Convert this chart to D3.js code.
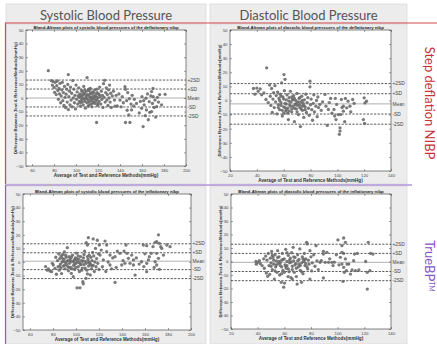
<!DOCTYPE html>
<html>
<head>
<meta charset="utf-8">
<script src="https://cdn.jsdelivr.net/npm/d3@7"></script>
<style>
  body { margin: 0; background: #fff; }
  svg { display: block; }
</style>
</head>
<body>
<div id="chart"></div>
<script>
// ---- data ----
const colHeaders = ['Systolic Blood Pressure', 'Diastolic Blood Pressure'];
const plotTitles = [
  'Bland-Altman plots of systolic blood pressures of the deflationary nibp',
  'Bland-Altman plots of diastolic blood pressures of the deflationary nibp',
  'Bland-Altman plots of systolic blood pressures of the inflationary nibp',
  'Bland-Altman plots of diastolic blood pressures of the inflationary nibp'
];
const xLabel = 'Average of Test and Reference Methods(mmHg)';
const yLabel = 'Difference Between Test & ReferenceMethods(mmHg)';
const sdLabels = ['+2SD', '+SD', 'Mean', '-SD', '-2SD'];
const sysTicks = [60, 80, 100, 120, 140, 160, 180, 200];
const diaTicks = [20, 40, 60, 80, 100, 120, 140];
const yTicks = [-50, -40, -30, -20, -10, 0, 10, 20, 30, 40, 50];

// reference lines (+2SD, +SD, mean, -SD, -2SD)
const tlLines = [13.2, 6.6, 0, -6.6, -13.2];
const trLines = [12, 4.8, -2.4, -9.6, -16.8];
const blLines = [13.4, 6.8, 0.6, -5.6, -12.2];
const brLines = [12.8, 6, -0.6, -7.4, -14.2];

// systolic, deflation
const tlPoints = [
  [74.8,20.1],[77.5,12.8],[78.5,9.5],[79,12.2],[80,7.8],[80.5,4.2],[81,11.5],[82,2.5],[82.5,9],[83,12.5],
  [83.5,5.5],[84,-1],[84.5,7],[85,3],[85.5,10.8],[86,-3.5],[86.5,1.5],[87,6],[87.5,11.5],[88,-2],
  [88.5,4],[89,-5.5],[89.5,8.5],[90,0.5],[90.5,-7],[91,2.8],[91.5,6.5],[92,-3],[92.5,10],[93,17.2],
  [93,-8.5],[93.5,1],[94,5],[94.5,-5],[95,8],[95.5,-1.5],[96,3.5],[96.5,-6.5],[97,12.8],[97.5,0],
  [98,6.5],[98.5,-3.5],[99,2],[99.5,-8],[100,9.5],
  [100.5,-1],[101,4.5],[101.5,-4.5],[102,1.5],[102.5,7.5],[103,-2.5],[103.5,3],[104,-6],[104.5,0.5],[105,5.5],
  [105.5,-3],[106,2],[106.5,-5],[107,8.5],[107.5,-1],[108,3.5],[108.5,-7.5],[109,0],[109.5,5],[110,15],
  [110,-3.5],[110.5,2.5],[111,-1.5],[111.5,6.5],[112,-5],[112.5,1],[113,3.5],[113.5,-2],[114,0.5],[114.5,-6.5],
  [115,4.5],[115.5,-3],[116,1.5],[116.5,-0.5],[117,6],[117.5,-4],[118,2.5],[118.5,-1.5],[118.7,-18],[119,4],
  [119.5,-5.5],[120,0],[120.5,3],[121,-2.5],[121.5,8],[122,1],[122.5,-4.5],[123,5],[123.5,-1],[124,2],
  [124.5,-7],[125,10.5],[125.5,0.5],[126,13],[126.5,-3],[127,4],[127.5,7.5],[128,-1.5],[128.5,2.5],[129,-5.5],
  [129.5,6],[130,0],[130.5,9.5],[131,-3],[131.5,3.5],[132,-7],[133,1.5],[134,5],[135,-1.5],[135.5,-6],[136.5,2],
  [103,0.5],[104,2.5],[105,-1.5],[106,0],[107,3],[108,-2.5],[109,1.5],[110,-0.5],[111,2],[112,-3],
  [113,0],[114,3],[115,-1],[116,-3.5],[117,1],[118,-2],[119,0.5],[120,-4],[121,2.5],[106,4.5],
  [108,6],[112,5.5],[114,-4.5],[116,4],[119,6.5],[104,-3.5],[111,-6],[113,7],
  [137.5,-5.9],[139,3],[140,-1.5],[141,-6.5],[142,1],[143,-3.5],[144.5,8.3],[145,6.4],[145,-18],[146,-2],
  [146.5,-9],[147,4],[148,-12.5],[148.5,-0.5],[149,-18],[150,-4.5],[150.5,-8.8],[151,2],[152.5,-5.9],[153,-1],[155,-4],
  [157.5,-11],[158.5,-2.5],[159.6,-7.6],[160,1],[161,-21],[161.5,-2],[162,-5],[163,-13],[163.6,-0.2],[164,-8.8],
  [165,3],[165.7,-16],[166.6,-2.7],[167,-10.5],[168,1.5],[168.7,4.7],[168.7,-10],[169.5,-4],[170,7],[170.2,1],
  [171,-7],[171.8,-1.5],[172.5,-14],[173.3,-6.4],[174,0.5],[175,-3],[176,2.5],[177.8,-5],[181,2.7]
];

// diastolic, deflation
const trPoints = [
  [37.5,8.5],[38.6,4.5],[40,8.8],[41,6.5],[42.5,8.2],[43.6,4],[45.3,5.4],[46.8,0.7],[47.3,23.2],
  [48.5,-1.5],[49.5,11],[50,3],[50.5,-3.5],[51,8.5],[51.5,-8.5],[52,1],[52.5,5.5],[53,-5],[53.5,10.5],
  [54,-1],[54.5,3.5],[55,-9.5],[55.5,6],[56,-3],[56.5,1.5],[57,-6.5],[57.5,4.5],[58,-1.5],[58.5,12.5],
  [59,-11],[59.5,2.5],[60,-4.5],[60.2,18.4],[60.5,7],[61,15],[61,-2],[61.5,-7.5],[62,0.5],[62.5,4],
  [63,-5.5],[63.5,-13.5],[64,2],[64.5,-3],[65,6.5],[65.5,-1],[66,-8],[66.5,1],[67,-4],[67.5,3.5],
  [68,-15],[68.5,-2.5],[69,0],[69.5,-6],[70,5],[70.5,-3.5],[71,-10],[71.5,1.5],[72,-5],[72.5,-18.5],
  [73,-1],[73.5,3],[74,-7],[74.5,-2],[75,-12],[75.5,0.5],[76,-4.5],[76.5,4.5],[77,-8.5],[77.5,-1.5],
  [78,2],[78.5,-5.5],[79,-10.5],[79.6,13.7],[79.6,9.7],[80,-3],[80.5,1],[81,-6.5],[81.5,-14],[82,-2],
  [82.5,4],[83,-8],[84,-4],[84.5,0],[85,-11.5],[85.5,2.5],[86,-5],[87,-2.8],
  [56,-5],[57,0],[58,-3.5],[59,-7],[60,1],[61,-5],[62,-2.5],[63,-9],[64,-0.5],[65,-4],
  [66,-6],[67,0.5],[68,-5.5],[69,-3],[70,-8],[71,-1],[72,-3],[73,-6],[74,0],[75,-3.5],
  [76,-6.5],[58,3],[62,-6.5],[66,2.5],[70,-1.5],[64,-7.5],[68,1.5],[72,2],[60,-9],[74,-4],
  [88,-7],[89,-1],[90.8,4.3],[91.5,-4],[92.5,-17.7],[93.3,-6.4],[94,-1.5],[95,1.5],[96,-9],[97.5,-6.4],
  [98,-11],[98.5,1.5],[99,-13.5],[99.5,-2.8],[100.7,-10],[101.5,-24],[102,-19.4],[102,-21.7],[102.5,-10],[103,0.7],
  [103.5,-5],[104.5,-4],[104.5,-7.6],[105.5,-15],[106,1.5],[107,-5.2],[108,-0.5],[109.4,-4],[110,-8],[111.4,0.7],[112.5,-2],
  [119.4,-13.5],[120,1.9],[120.3,-16.3],[120.6,-1.7],[121.8,-0.5]
];

// systolic, inflation
const blPoints = [
  [73.6,-3.4],[75,-6],[76,-5.1],[77.4,-6.6],[78.9,-7.1],[79.5,-1],[80.3,-2.2],[81.8,-4.7],[82.5,3.5],[83,-9],
  [84,1],[84.5,-3.5],[85,6],[85.5,-6],[86,2.5],[86.5,-1.5],[87,4.5],[87.5,-8.5],[88,0],[88.5,5.5],
  [89,-3],[89.5,2],[90,7.5],[90.5,-5],[91,-0.5],[91.5,3.5],[92,-2],[92.5,10.5],[93,1],[93.5,-6.5],
  [94,4],[94.5,-1],[95,2.5],[95.5,-4],[96,-8.3],[96.5,0.5],[97,5],[97.7,-10.8],[98,-2.5],[98.5,1.5],
  [99,-5.5],[99.5,3],[100,-1],[100.5,6.5],[101,-19],[101.5,0],[102,-3.5],[102.5,2],[103,-7],[103.5,-19],
  [104,4],[104.5,-1.5],[105,1],[105.5,-4.5],[106,-14.5],[106.4,-16],[106.5,3],[107,-2],[107.5,8],[108,0.5],
  [108.7,-12],[109,14.2],[109.5,-6],[110,12.5],[110,-8.8],[110.5,2],[110.8,17.9],[111,-3],[111.5,5],[112,-0.5],
  [112.5,-9.5],[113,3.5],[113.5,-5],[114,1],[114.5,7],[115,17],[115,-2.5],[115.5,4.5],[116,-7],[116.5,0],
  [117,10],[117.5,-3.5],[118,2.5],[118.6,16],[119,-1],[119.5,6],[120,-5.5],[120.3,12.5],[121,5.1],
  [86,-3],[88,3],[90,-2.5],[92,0.5],[94,-4],[96,3.5],[98,0],[100,-4],[102,4.5],[104,-2],
  [106,0.5],[108,-4.5],[110,4],[112,-1.5],[114,-3],[89,0.5],[91,5],[93,-3.5],[95,1],[97,-5],
  [99,-1.5],[101,2.5],[103,-0.5],[105,-6],[107,5.5],[109,-1],[111,0],[113,-2],[87,-4.5],[100,1.5],
  [122,8.8],[123,-3.5],[123.8,1.5],[125.3,15.4],[126,-7],[126.7,7.6],[126.7,12.5],[128,0],[129.6,5.1],[129.6,-2.2],
  [131,-5],[132,3],[134,-15],[134,3.9],[135,-4],[136,8],[138.3,6.4],[139.8,-2.2],[141,1],[141.8,8],
  [142.6,-1],[143.5,12.5],[144.4,6.4],[145.6,2.7],[147,-1],[148.5,5.1],[150,1.5],[150,-2.2],[151.4,-9.6],[152.5,3],
  [155,-1.5],[157,0.2],[158.6,12.5],[159,-3.4],[160,6],[161.5,12],[161.5,-1],[161.5,-7.1],[163,1.5],[163.8,3.9],
  [165.5,6.4],[167,11.3],[168,-4],[168.8,14.5],[168.8,0.2],[170.2,15],[170.2,6.4],[170.2,-2.2],[171.7,20],[171.7,2.7],
  [172.5,13.7],[172.5,-5.4],[173.7,11.3],[174.6,10],[176,5.1],[179,12.5],[181.8,11.3]
];

// diastolic, inflation
const brPoints = [
  [38.7,0],[39,-2],[40,-0.6],[41.3,0.6],[42,-1.5],[43.3,-3],[44.5,2],
  [45,-5],[46,4],[46.5,-8.5],[47,1],[47.5,-11],[48,6],[48.5,-3],[49,-9.5],[49.5,2.5],[50,-1],
  [50.5,7.5],[51,-6],[51.5,3],[52,-2],[52.5,-13],[53,5],[53.5,-4],[54,0.5],[54.5,-8],[55,8],
  [55.5,-1.5],[56,3.5],[56.5,-10],[57,-3],[57.7,-15.4],[58,1],[58.5,6],[59,-6.5],[59.5,-19],[60,2],
  [60.2,-16],[60.5,-2.5],[61,9],[61.5,-5],[62,0],[62.8,-11.2],[63,4.5],[63.5,-7.5],[64,-1],[64.5,2.5],
  [65,-12],[65.5,6.5],[66,-13],[66,-3.5],[66.6,10.5],[67,0.5],[67.5,-8],[68,3],[68.5,-1.5],[69,-11.2],
  [69.6,-16.7],[70,5],[70.5,-4],[71,1.5],[71.6,9.3],[72,-6.5],[72.9,-15.4],[73,-1],[73.5,3.5],[74,-9],
  [74.5,0],[75,6],[75.5,-3],[76,2],[76.7,14.2],[77.2,13],[77.5,-5.5],[78,1],[78.5,-2],[79.2,8],
  [79.2,-13],[80,3.5],[80.5,-7],[81,-1],[82,5],[83,-3.5],[83.8,11.7],[84.5,0.5],[85.5,-6],[86.8,-0.6],[87.7,0.6],
  [50,-3.5],[52,1],[54,-2.5],[56,0],[58,-4],[60,-8],[62,-3],[64,1],[66,-6],[68,-2.5],
  [70,0.5],[72,-3],[74,2],[76,-1.5],[51,4.5],[53,-7],[55,3],[57,-1],[59,1.5],[61,-3.5],
  [63,-5.5],[65,-0.5],[67,3.5],[69,-5],[71,-2],[73,-7.5],[75,1],[77,-4],[62,6.5],[58,-9],
  [89.3,7.5],[89.3,5.5],[89.3,-12.2],[90.6,-0.6],[91.9,6.8],[93.1,-0.6],[94,2],[95.6,-0.6],[96.5,-3],
  [97.5,-0.5],[99,5],[100.2,16],[101,-2.5],[102,3.1],[103.2,11.7],[103.2,6.8],[103.2,-1.9],[104,-14.7],[104.5,17.4],
  [104.5,6],[104.5,-4.3],[105,-8],[105.8,14.2],[105.8,1.9],[106.5,-6.8],[107,-1.9],[108.3,-1.9],[109.6,-9.3],[110.8,-6.3],
  [112,0.6],[112.6,5.5],[113.4,-6.8],[114.6,6],[115.9,-6.3],
  [121,0],[122.2,-8],[122.2,-20.4],[123,14.2],[124.2,-6.8],[124.7,6],[126.5,5.5]
];

// ---- layout ----
const W = 437, H = 344;
const panelGray = '#ececec';
const plots = [
  {box: {x: 26, y: 30, w: 160, h: 136}, xDomain: [54.5, 200], xTicks: sysTicks, points: tlPoints, lines: tlLines, title: plotTitles[0]},
  {box: {x: 230, y: 30, w: 161, h: 141}, xDomain: [20, 140], xTicks: diaTicks, points: trPoints, lines: trLines, title: plotTitles[1]},
  {box: {x: 23, y: 194, w: 168, h: 136}, xDomain: [54, 200], xTicks: sysTicks, points: blPoints, lines: blLines, title: plotTitles[2]},
  {box: {x: 231, y: 194, w: 160, h: 135}, xDomain: [20, 140], xTicks: diaTicks, points: brPoints, lines: brLines, title: plotTitles[3]}
];

const svg = d3.select('#chart').append('svg')
  .attr('width', W)
  .attr('height', H)
  .attr('font-family', 'Liberation Sans, Arial, sans-serif');

svg.append('rect').attr('width', W).attr('height', H).attr('fill', '#fff');

// gray panels behind each plot + the column headers
const bg = svg.append('g');
[[6, 24, 200, 160], [210, 24, 197, 160], [6, 186, 200, 158], [210, 186, 197, 158]].forEach(p => {
  bg.append('rect')
    .attr('x', p[0]).attr('y', p[1]).attr('width', p[2]).attr('height', p[3])
    .attr('fill', panelGray).attr('stroke', '#d2d2d2').attr('stroke-width', 0.6);
});
[[6, 4, 200, 19], [210, 4, 197, 19]].forEach((p, i) => {
  bg.append('rect')
    .attr('x', p[0]).attr('y', p[1]).attr('width', p[2]).attr('height', p[3])
    .attr('fill', panelGray).attr('stroke', '#d2d2d2').attr('stroke-width', 0.6);
  bg.append('text')
    .attr('x', p[0] + p[2] / 2)
    .attr('y', 19.5)
    .attr('text-anchor', 'middle')
    .attr('font-family', 'Lato, Open Sans, sans-serif')
    .attr('font-size', 13)
    .attr('fill', '#555')
    .text(colHeaders[i]);
});

// coloured row rules
svg.append('line').attr('x1', 5).attr('x2', W).attr('y1', 23).attr('y2', 23)
  .attr('stroke', '#d0494d').attr('stroke-width', 1.2);
svg.append('line').attr('x1', 5.5).attr('x2', 5.5).attr('y1', 23).attr('y2', 184)
  .attr('stroke', '#d0494d').attr('stroke-width', 1.2);
svg.append('line').attr('x1', 5).attr('x2', 412).attr('y1', 185).attr('y2', 185)
  .attr('stroke', '#8b62c8').attr('stroke-width', 1.2);
svg.append('line').attr('x1', 5.5).attr('x2', 5.5).attr('y1', 185).attr('y2', H)
  .attr('stroke', '#8b62c8').attr('stroke-width', 1.2);

// row labels on the right
svg.append('text')
  .attr('transform', 'translate(425,103) rotate(90)')
  .attr('text-anchor', 'middle')
  .attr('font-family', 'Lato, Open Sans, sans-serif')
  .attr('font-size', 13)
  .attr('fill', '#c8323a')
  .text('Step deflation NIBP');
const tb = svg.append('text')
  .attr('transform', 'translate(425,266) rotate(90)')
  .attr('text-anchor', 'middle')
  .attr('font-family', 'Lato, Open Sans, sans-serif')
  .attr('font-size', 13)
  .attr('fill', '#8455c4');
tb.append('tspan').text('TrueBP');
tb.append('tspan').attr('font-size', 7).attr('dy', -4).text('TM');

// ---- the four Bland-Altman plots ----
plots.forEach(p => {
  const b = p.box;
  const x = d3.scaleLinear().domain(p.xDomain).range([b.x, b.x + b.w]);
  const y = d3.scaleLinear().domain([-50, 50]).range([b.y + b.h, b.y]);
  const g = svg.append('g');

  g.append('rect')
    .attr('x', b.x).attr('y', b.y).attr('width', b.w).attr('height', b.h)
    .attr('fill', '#fff');

  // mean (solid) and SD lines (dashed)
  g.selectAll('line.ref')
    .data(p.lines)
    .enter()
    .append('line')
    .attr('class', 'ref')
    .attr('x1', b.x).attr('x2', b.x + b.w)
    .attr('y1', d => y(d)).attr('y2', d => y(d))
    .attr('stroke', (d, i) => i === 2 ? '#9a9a9a' : '#2e2e2e')
    .attr('stroke-width', 0.8)
    .attr('stroke-dasharray', (d, i) => i === 2 ? null : '2.2,1.4');

  // scatter
  g.append('g')
    .selectAll('circle')
    .data(p.points)
    .enter()
    .append('circle')
    .attr('cx', d => x(d[0]))
    .attr('cy', d => y(d[1]))
    .attr('r', 1.65)
    .attr('fill', '#6b6b6b')
    .attr('fill-opacity', 0.9);

  // axes with MATLAB-like inward ticks on all sides
  const axL = g.append('g').attr('transform', `translate(${b.x},0)`)
    .call(d3.axisLeft(y).tickValues(yTicks).tickSize(-2).tickPadding(2.5));
  const axB = g.append('g').attr('transform', `translate(0,${b.y + b.h})`)
    .call(d3.axisBottom(x).tickValues(p.xTicks).tickSize(-2).tickPadding(2.5));
  g.append('g').attr('transform', `translate(${b.x + b.w},0)`)
    .call(d3.axisRight(y).tickValues(yTicks).tickSize(-2).tickFormat(''));
  g.append('g').attr('transform', `translate(0,${b.y})`)
    .call(d3.axisTop(x).tickValues(p.xTicks).tickSize(-2).tickFormat(''));
  g.selectAll('.domain').remove();
  g.selectAll('.tick line').attr('stroke', '#444').attr('stroke-width', 0.5);
  [axL, axB].forEach(a => a.selectAll('text').attr('font-size', 4.3).attr('fill', '#444'));

  g.append('rect')
    .attr('x', b.x).attr('y', b.y).attr('width', b.w).attr('height', b.h)
    .attr('fill', 'none').attr('stroke', '#333').attr('stroke-width', 0.6);

  // line labels
  g.selectAll('text.sd')
    .data(p.lines)
    .enter()
    .append('text')
    .attr('class', 'sd')
    .attr('x', b.x + b.w + 1.5)
    .attr('y', d => y(d) + 1.7)
    .attr('font-size', 4.8)
    .attr('fill', '#444')
    .text((d, i) => sdLabels[i]);

  // title and axis labels
  g.append('text')
    .attr('x', b.x + b.w / 2).attr('y', b.y - 1.3)
    .attr('text-anchor', 'middle')
    .attr('font-size', 4.3).attr('font-weight', 'bold').attr('fill', '#222')
    .text(p.title);
  g.append('text')
    .attr('x', b.x + b.w / 2).attr('y', b.y + b.h + 10.5)
    .attr('text-anchor', 'middle')
    .attr('font-size', 4.6).attr('font-weight', 'bold').attr('fill', '#333')
    .text(xLabel);
  g.append('text')
    .attr('transform', `translate(${b.x - 9.5},${b.y + b.h / 2}) rotate(-90)`)
    .attr('text-anchor', 'middle')
    .attr('font-size', 4.4).attr('font-weight', 'bold').attr('fill', '#333')
    .text(yLabel);
});
</script>
</body>
</html>
